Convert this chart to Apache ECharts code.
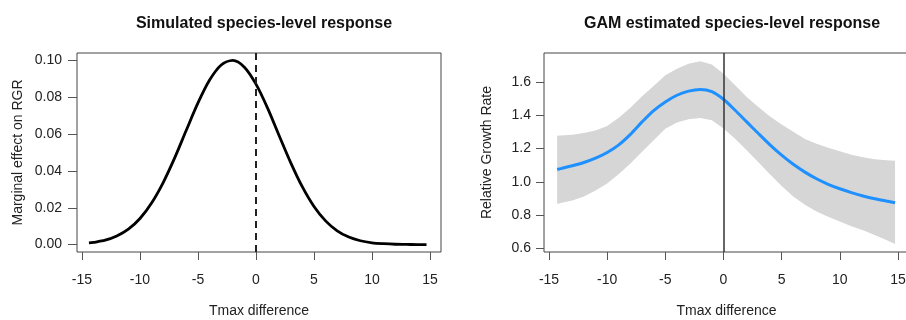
<!DOCTYPE html>
<html>
<head>
<meta charset="utf-8">
<script src="https://cdn.jsdelivr.net/npm/echarts@6/dist/echarts.min.js"></script>
<style>html,body{margin:0;padding:0;background:#fff;}#c{width:906px;height:320px;}</style>
</head>
<body>
<div id="c"></div>
<script>
// Left panel: simulated response
const xLeft = [-14.4,-14,-13,-12,-11,-10,-9,-8,-7,-6,-5,-4,-3,-2,-1,0,1,2,3,4,5,6,7,8,9,10,11,12,13,14,14.7];
const yLeft = [0.0009,0.0012,0.0024,0.0047,0.0084,0.0142,0.0226,0.0337,0.0472,0.0622,0.0769,0.0893,0.0975,0.1000,0.0963,0.0871,0.0741,0.0591,0.0444,0.0313,0.0207,0.0129,0.0075,0.0041,0.0021,0.0010,0.0005,0.0002,0.0001,0.0000,0.0000];
// Right panel: GAM estimate with confidence band
const xRight = [-14.3,-14,-13,-12,-11,-10,-9,-8,-7,-6,-5,-4,-3,-2,-1,0,1,2,3,4,5,6,7,8,9,10,11,12,13,14,14.75];
const fitRight = [1.074,1.079,1.096,1.116,1.142,1.176,1.222,1.285,1.360,1.428,1.480,1.520,1.545,1.555,1.542,1.496,1.430,1.360,1.290,1.222,1.160,1.105,1.058,1.018,0.985,0.958,0.935,0.915,0.898,0.884,0.874];
const upperRight = [1.276,1.278,1.283,1.293,1.308,1.335,1.385,1.445,1.514,1.575,1.640,1.680,1.710,1.725,1.705,1.650,1.580,1.510,1.450,1.392,1.345,1.300,1.257,1.228,1.205,1.184,1.163,1.148,1.136,1.130,1.126];
const lowerRight = [0.866,0.872,0.888,0.912,0.947,0.990,1.047,1.110,1.180,1.250,1.318,1.357,1.376,1.384,1.370,1.320,1.258,1.190,1.118,1.045,0.975,0.912,0.862,0.822,0.790,0.762,0.733,0.708,0.680,0.650,0.626];
// Tick labels
const xTicks = [-15,-10,-5,0,5,10,15];
const yTicksLeft = [0,0.02,0.04,0.06,0.08,0.10];
const yTicksRight = [0.6,0.8,1.0,1.2,1.4,1.6];

const FONT = 'Liberation Sans, Arial, Helvetica, sans-serif';
const FS = 14;
const chart = echarts.init(document.getElementById('c'), null, {renderer:'canvas'});
const pair = (xs, ys) => xs.map((x,i)=>[x, ys[i]]);

function xAxisCfg(gi){
  return {
    type:'value', gridIndex:gi, min:-15.43, max:15.95,
    name:'Tmax difference', nameLocation:'middle', nameGap:52,
    nameTextStyle:{fontFamily:FONT, fontSize:FS, color:'#222'},
    axisLine:{show:false, onZero:false},
    axisTick:{show:true, customValues:xTicks, length:8, lineStyle:{color:'#555', width:1}},
    axisLabel:{show:true, customValues:xTicks, margin:21, fontFamily:FONT, fontSize:FS, color:'#222'},
    splitLine:{show:false}
  };
}

const option = {
  animation:false,
  backgroundColor:'#ffffff',
  title:[
    {text:'Simulated species-level response', left:259, top:11, textAlign:'center',
     textStyle:{fontFamily:FONT, fontSize:16, fontWeight:'bold', color:'#111'}},
    {text:'GAM estimated species-level response', left:727, top:11, textAlign:'center',
     textStyle:{fontFamily:FONT, fontSize:16, fontWeight:'bold', color:'#111'}}
  ],
  grid:[
    {left:77, top:53, width:364, height:199, show:true, borderColor:'#444', borderWidth:1, backgroundColor:'transparent', containLabel:false, outerBoundsMode:'none'},
    {left:544, top:53, width:365, height:199, show:true, borderColor:'#444', borderWidth:1, backgroundColor:'transparent', containLabel:false, outerBoundsMode:'none'}
  ],
  xAxis:[xAxisCfg(0), xAxisCfg(1)],
  yAxis:[
    {type:'value', gridIndex:0, min:-0.004, max:0.104,
     name:'Marginal effect on RGR', nameLocation:'middle', nameGap:52, nameRotate:90,
     nameTextStyle:{fontFamily:FONT, fontSize:FS, color:'#222'},
     axisLine:{show:false, onZero:false},
     axisTick:{show:true, customValues:yTicksLeft, length:9, lineStyle:{color:'#555', width:1}},
     axisLabel:{show:true, customValues:yTicksLeft, margin:15, fontFamily:FONT, fontSize:FS, color:'#222',
       formatter:v=>v.toFixed(2)},
     splitLine:{show:false}},
    {type:'value', gridIndex:1, min:0.578, max:1.774,
     name:'Relative Growth Rate', nameLocation:'middle', nameGap:50, nameRotate:90,
     nameTextStyle:{fontFamily:FONT, fontSize:FS, color:'#222'},
     axisLine:{show:false, onZero:false},
     axisTick:{show:true, customValues:yTicksRight, length:8, lineStyle:{color:'#555', width:1}},
     axisLabel:{show:true, customValues:yTicksRight, margin:13, fontFamily:FONT, fontSize:FS, color:'#222',
       formatter:v=>v.toFixed(1)},
     splitLine:{show:false}}
  ],
  series:[
    {type:'line', xAxisIndex:0, yAxisIndex:0, data:pair(xLeft,yLeft), smooth:0.3, symbol:'none',
     lineStyle:{color:'#000', width:2.8}, z:3,
     markLine:{silent:true, symbol:'none', label:{show:false},
       lineStyle:{color:'#222', width:2, type:[7,5]}, data:[{xAxis:0}]}},
    {type:'custom', xAxisIndex:1, yAxisIndex:1, z:1, silent:true,
     data:[[0]],
     renderItem:function(params, api){
       const pts = [];
       for (let i=0;i<xRight.length;i++) pts.push(api.coord([xRight[i], upperRight[i]]));
       for (let i=xRight.length-1;i>=0;i--) pts.push(api.coord([xRight[i], lowerRight[i]]));
       return {type:'polygon', shape:{points:pts}, style:{fill:'#d6d6d6', stroke:'none'}};
     }},
    {type:'line', xAxisIndex:1, yAxisIndex:1, data:pair(xRight,fitRight), smooth:0.3, symbol:'none',
     lineStyle:{color:'#1e90ff', width:3}, z:3,
     markLine:{silent:true, symbol:'none', label:{show:false},
       lineStyle:{color:'#333', width:1.5, type:'solid'}, data:[{xAxis:0}]}}
  ]
};
chart.setOption(option);
</script>
</body>
</html>
